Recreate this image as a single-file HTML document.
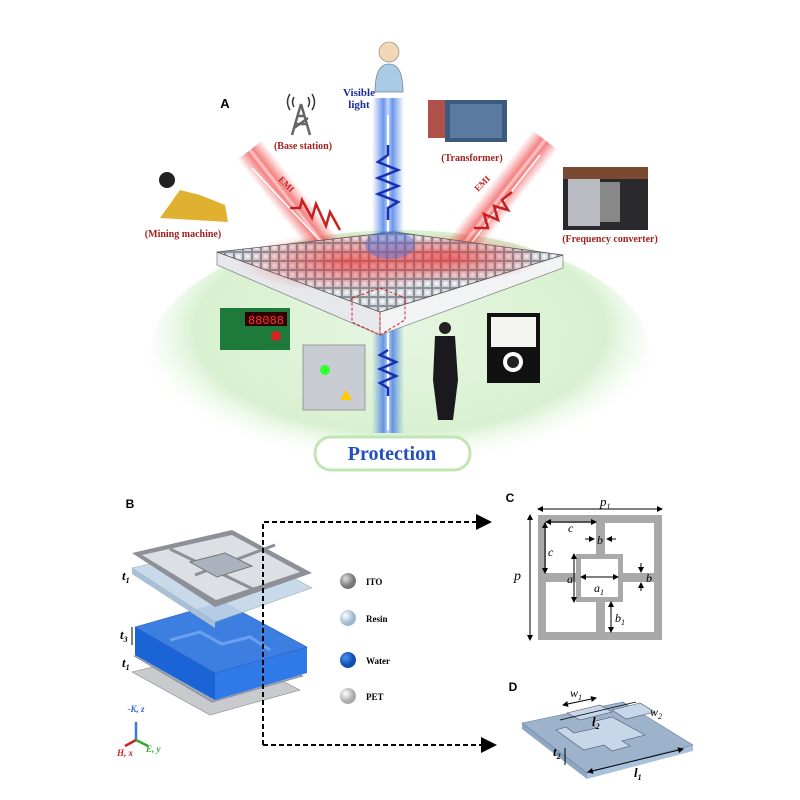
<!DOCTYPE html>
<html><head><meta charset="utf-8"><style>
html,body{margin:0;padding:0;background:#fff;}
svg{display:block;font-family:"Liberation Serif",serif;}
</style></head><body>
<svg width="800" height="800" viewBox="0 0 800 800" xmlns="http://www.w3.org/2000/svg">
<defs>
<radialGradient id="grn" cx="50%" cy="40%" r="55%">
<stop offset="0" stop-color="#e6f6e1"/><stop offset="0.75" stop-color="#d8f1d0"/><stop offset="1" stop-color="#ffffff" stop-opacity="0"/></radialGradient>
<linearGradient id="blu" x1="0" x2="1"><stop offset="0" stop-color="#4a7fe0" stop-opacity="0"/><stop offset="0.35" stop-color="#3b74e6" stop-opacity="0.75"/><stop offset="0.5" stop-color="#c9dcff"/><stop offset="0.65" stop-color="#3b74e6" stop-opacity="0.75"/><stop offset="1" stop-color="#4a7fe0" stop-opacity="0"/></linearGradient>
<linearGradient id="red" x1="0" x2="1"><stop offset="0" stop-color="#f06060" stop-opacity="0"/><stop offset="0.4" stop-color="#ee5050" stop-opacity="0.7"/><stop offset="0.5" stop-color="#ffd0d0"/><stop offset="0.6" stop-color="#ee5050" stop-opacity="0.7"/><stop offset="1" stop-color="#f06060" stop-opacity="0"/></linearGradient>
<radialGradient id="glowr" cx="50%" cy="50%" r="50%"><stop offset="0" stop-color="#e33" stop-opacity="0.7"/><stop offset="1" stop-color="#e33" stop-opacity="0"/></radialGradient>
<pattern id="grid" width="9" height="9" patternUnits="userSpaceOnUse"><rect width="9" height="9" fill="#8a8f98"/><rect x="1" y="1" width="7" height="7" fill="#d2d5da"/><circle cx="4.5" cy="4.5" r="2" fill="#f2f3f5"/></pattern>
<radialGradient id="sph1" cx="35%" cy="35%"><stop offset="0" stop-color="#ddd"/><stop offset="1" stop-color="#777"/></radialGradient>
<radialGradient id="sph2" cx="35%" cy="35%"><stop offset="0" stop-color="#fff"/><stop offset="1" stop-color="#9fb8d0"/></radialGradient>
<radialGradient id="sph3" cx="35%" cy="35%"><stop offset="0" stop-color="#4d8ff0"/><stop offset="1" stop-color="#0d4fb0"/></radialGradient>
<radialGradient id="sph4" cx="35%" cy="35%"><stop offset="0" stop-color="#fff"/><stop offset="1" stop-color="#aaa"/></radialGradient>
<marker id="ar" markerWidth="8" markerHeight="8" refX="7" refY="4" orient="auto"><path d="M0,0 L8,4 L0,8 z" fill="#000"/></marker>
<marker id="sa" markerWidth="6" markerHeight="6" refX="5" refY="3" orient="auto"><path d="M0,0 L6,3 L0,6 z" fill="#000"/></marker>
<marker id="sb" markerWidth="6" markerHeight="6" refX="1" refY="3" orient="auto"><path d="M6,0 L0,3 L6,6 z" fill="#000"/></marker>
</defs>

<!-- green glow -->
<ellipse cx="400" cy="355" rx="250" ry="125" fill="url(#grn)"/>

<!-- blue beam -->
<rect x="372" y="98" width="32" height="335" fill="url(#blu)"/>
<line x1="388" y1="115" x2="388" y2="430" stroke="#fff" stroke-width="2"/>
<polyline points="388,145 388,155 378,162 398,170 378,178 398,186 378,194 398,202 388,208 388,220" fill="none" stroke="#1b2fb0" stroke-width="2.5"/>
<polyline points="388,350 380,355 396,362 380,369 396,376 380,383 388,388 388,396" fill="none" stroke="#1b2fb0" stroke-width="2.5"/>

<!-- red beams -->
<g transform="translate(250,150) rotate(-38)"><rect x="-16" y="0" width="32" height="150" fill="url(#red)"/></g>
<line x1="252" y1="168" x2="340" y2="262" stroke="#fff" stroke-width="1.5"/>
<polyline points="290,208 300,208 302,200 312,218 316,204 326,226 330,212 340,230" fill="none" stroke="#c82020" stroke-width="2.5"/>
<g transform="translate(545,140) rotate(38)"><rect x="-16" y="0" width="32" height="150" fill="url(#red)"/></g>
<line x1="540" y1="155" x2="462" y2="255" stroke="#fff" stroke-width="1.5"/>
<polyline points="512,192 502,200 508,210 494,206 498,220 484,214 488,228 474,228" fill="none" stroke="#c82020" stroke-width="2.5"/>
<text x="278" y="180" font-size="9" fill="#c82020" font-weight="bold" transform="rotate(45 278 180)">EMI</text>
<text x="478" y="192" font-size="9" fill="#c82020" font-weight="bold" transform="rotate(-45 478 192)">EMI</text>

<!-- board -->
<polygon points="217,252 380,312 380,335 217,265" fill="#e6e8ec" stroke="#888" stroke-width="0.8"/>
<polygon points="380,312 563,255 563,268 380,335" fill="#f2f3f5" stroke="#888" stroke-width="0.8"/>
<polygon points="217,252 395,232 563,255 380,312" fill="url(#grid)" stroke="#555" stroke-width="0.8"/>
<ellipse cx="350" cy="262" rx="110" ry="30" fill="url(#glowr)"/>
<ellipse cx="450" cy="258" rx="90" ry="25" fill="url(#glowr)"/>
<ellipse cx="390" cy="245" rx="25" ry="14" fill="#4a6fe0" opacity="0.45"/>
<polygon points="352,298 380,288 405,298 405,320 380,335 352,322" fill="none" stroke="#d02020" stroke-width="1" stroke-dasharray="3,2"/>
<line x1="380" y1="312" x2="380" y2="335" stroke="#d02020" stroke-dasharray="3,2"/>

<!-- top icons -->
<circle cx="389" cy="52" r="10" fill="#f2d6b5" stroke="#999" stroke-width="0.8"/>
<path d="M375,92 Q375,64 389,64 Q403,64 403,92 Z" fill="#a9cbe6" stroke="#789" stroke-width="0.8"/>
<text x="359" y="96" font-size="11" font-weight="bold" fill="#1c2a9c" text-anchor="middle">Visible</text>
<text x="359" y="108" font-size="11" font-weight="bold" fill="#1c2a9c" text-anchor="middle">light</text>
<text x="225" y="108" font-family="Liberation Sans,sans-serif" font-size="13" font-weight="bold" text-anchor="middle">A</text>
<path d="M301,104 L292,135 M301,104 L310,135 M295,124 L307,124 M297,116 L305,116 M294,128 L308,118" stroke="#666" stroke-width="2.5" fill="none"/>
<path d="M294,97 Q291,102 294,107 M308,97 Q311,102 308,107 M290,94 Q285,102 290,110 M312,94 Q317,102 312,110" stroke="#333" stroke-width="1.5" fill="none"/>
<text x="303" y="149" font-size="10" font-weight="bold" fill="#a52020" text-anchor="middle">(Base station)</text>
<rect x="428" y="100" width="22" height="38" fill="#b0504a"/>
<rect x="445" y="100" width="62" height="42" fill="#3a5a80"/>
<rect x="450" y="104" width="52" height="34" fill="#5a7aa0"/>
<text x="472" y="161" font-size="10" font-weight="bold" fill="#a52020" text-anchor="middle">(Transformer)</text>
<path d="M160,218 L180,190 L200,195 L225,205 L228,222 Z" fill="#e0b030"/>
<circle cx="167" cy="180" r="8" fill="#222"/>
<text x="183" y="237" font-size="10" font-weight="bold" fill="#a52020" text-anchor="middle">(Mining machine)</text>
<rect x="563" y="167" width="85" height="63" fill="#2a2a2e"/>
<rect x="568" y="178" width="32" height="48" fill="#b8bcc2"/>
<rect x="600" y="182" width="20" height="40" fill="#888"/>
<rect x="563" y="167" width="85" height="12" fill="#7a4a30"/>
<text x="610" y="242" font-size="10" font-weight="bold" fill="#a52020" text-anchor="middle">(Frequency converter)</text>

<!-- bottom devices -->
<rect x="220" y="308" width="70" height="42" fill="#1e7a3a"/>
<rect x="245" y="312" width="42" height="14" fill="#300"/>
<text x="266" y="324" font-family="Liberation Mono,monospace" font-size="12" fill="#f33" text-anchor="middle">88088</text>
<circle cx="276" cy="336" r="5" fill="#d22"/>
<rect x="303" y="345" width="62" height="65" fill="#c9ccd2" stroke="#999"/>
<circle cx="325" cy="370" r="5" fill="#3f3"/>
<polygon points="340,400 346,390 352,400" fill="#fc0"/>
<circle cx="445" cy="328" r="6" fill="#222"/>
<path d="M435,336 L455,336 L458,380 L453,420 L438,420 L433,380 Z" fill="#1a1a1e"/>
<rect x="487" y="313" width="53" height="70" fill="#111"/>
<rect x="491" y="317" width="45" height="30" fill="#f4f4f0"/>
<circle cx="513" cy="362" r="10" fill="#fff"/>
<circle cx="513" cy="362" r="6" fill="#222"/>

<rect x="315" y="437" width="155" height="33" rx="16" fill="#fff" stroke="#bfe6b4" stroke-width="3"/>
<text x="392" y="460" font-size="20" font-weight="bold" fill="#2350b8" text-anchor="middle">Protection</text>

<!-- Panel B -->
<text x="130" y="508" font-family="Liberation Sans,sans-serif" font-size="12" font-weight="bold" text-anchor="middle">B</text>
<polygon points="132,672 222,650 300,690 210,715" fill="#c8cacd" stroke="#888" stroke-width="0.6"/>
<polygon points="134,656 222,634 303,676 212,702" fill="#9aa8b6" stroke="#778" stroke-width="0.6"/>
<polygon points="135,627 135,655 215,700 215,673" fill="#1a64d8"/>
<polygon points="215,673 307,647 307,673 215,700" fill="#2f7ae6"/>
<polygon points="135,627 223,602 307,647 215,673" fill="#3d7fe0" stroke="#2a5fc0" stroke-width="0.6"/>
<path d="M170,640 L200,632 L222,644 L250,637 L270,650" fill="none" stroke="#6aa0f0" stroke-width="3"/>
<polygon points="132,568 232,545 312,588 215,622" fill="#c3d5e8" opacity="0.9" stroke="#8aa" stroke-width="0.6"/>
<polygon points="132,568 215,622 215,628 132,574" fill="#a9bfd6"/>
<polygon points="132,553 232,530 312,573 215,607" fill="#8d9096"/>
<polygon points="142,555 232,535 300,572 216,600" fill="#dcdfe4"/>
<line x1="170" y1="549" x2="255" y2="590" stroke="#8d9096" stroke-width="3"/>
<line x1="195" y1="575" x2="275" y2="545" stroke="#8d9096" stroke-width="3"/>
<polygon points="190,562 225,553 252,566 217,577" fill="#aab3bd" stroke="#777"/>
<text x="122" y="580" font-size="13" font-style="italic" font-weight="bold">t<tspan font-size="8" dy="3">1</tspan></text>
<text x="120" y="639" font-size="13" font-style="italic" font-weight="bold">t<tspan font-size="8" dy="3">3</tspan></text>
<line x1="132" y1="627" x2="132" y2="645" stroke="#000"/>
<text x="122" y="667" font-size="13" font-style="italic" font-weight="bold">t<tspan font-size="8" dy="3">1</tspan></text>
<line x1="136" y1="740" x2="136" y2="722" stroke="#3a7ad0" stroke-width="2.5"/>
<line x1="136" y1="740" x2="125" y2="746" stroke="#c22" stroke-width="2.5"/>
<line x1="136" y1="740" x2="148" y2="746" stroke="#3a3" stroke-width="2.5"/>
<text x="136" y="712" font-size="9" font-style="italic" font-weight="bold" fill="#3a6ac0" text-anchor="middle">-K, z</text>
<text x="117" y="756" font-size="9" font-style="italic" font-weight="bold" fill="#c22">H, x</text>
<text x="146" y="752" font-size="9" font-style="italic" font-weight="bold" fill="#3a3">E, y</text>
<circle cx="348" cy="581" r="8" fill="url(#sph1)"/><text x="366" y="585" font-size="9" font-weight="bold">ITO</text>
<circle cx="348" cy="618" r="8" fill="url(#sph2)"/><text x="366" y="622" font-size="9" font-weight="bold">Resin</text>
<circle cx="348" cy="660" r="8" fill="url(#sph3)"/><text x="366" y="664" font-size="9" font-weight="bold">Water</text>
<circle cx="348" cy="696" r="8" fill="url(#sph4)"/><text x="366" y="700" font-size="9" font-weight="bold">PET</text>
<polyline points="263,745 263,522 490,522" fill="none" stroke="#000" stroke-width="2" stroke-dasharray="5,3" marker-end="url(#ar)"/>
<polyline points="263,745 495,745" fill="none" stroke="#000" stroke-width="2" stroke-dasharray="5,3" marker-end="url(#ar)"/>

<!-- Panel C -->
<text x="510" y="502" font-family="Liberation Sans,sans-serif" font-size="12" font-weight="bold" text-anchor="middle">C</text>
<rect x="538" y="515" width="124" height="125" fill="#a9a9a9"/>
<rect x="546" y="523" width="50" height="50" fill="#fff"/>
<rect x="605" y="523" width="49" height="50" fill="#fff"/>
<rect x="546" y="582" width="50" height="50" fill="#fff"/>
<rect x="605" y="582" width="49" height="50" fill="#fff"/>
<rect x="576" y="554" width="47" height="48" fill="#a9a9a9"/>
<rect x="581" y="559" width="37" height="38" fill="#fff"/>
<line x1="538" y1="509" x2="662" y2="509" stroke="#000" marker-start="url(#sb)" marker-end="url(#sa)"/>
<text x="600" y="506" font-size="13" font-style="italic">p<tspan font-size="8" dy="3">1</tspan></text>
<line x1="530" y1="515" x2="530" y2="640" stroke="#000" marker-start="url(#sb)" marker-end="url(#sa)"/>
<text x="514" y="580" font-size="14" font-style="italic">p</text>
<line x1="546" y1="522" x2="596" y2="522" stroke="#000" marker-start="url(#sb)" marker-end="url(#sa)"/>
<text x="568" y="532" font-size="12" font-style="italic">c</text>
<line x1="545" y1="523" x2="545" y2="573" stroke="#000" marker-start="url(#sb)" marker-end="url(#sa)"/>
<text x="548" y="556" font-size="12" font-style="italic">c</text>
<text x="597" y="544" font-size="12" font-style="italic">b</text>
<line x1="585" y1="539" x2="594" y2="539" stroke="#000" marker-end="url(#sa)"/>
<line x1="616" y1="539" x2="607" y2="539" stroke="#000" marker-end="url(#sa)"/>
<text x="646" y="582" font-size="12" font-style="italic">b</text>
<line x1="641" y1="563" x2="641" y2="572" stroke="#000" marker-end="url(#sa)"/>
<line x1="641" y1="591" x2="641" y2="583" stroke="#000" marker-end="url(#sa)"/>
<line x1="574" y1="554" x2="574" y2="602" stroke="#000" marker-start="url(#sb)" marker-end="url(#sa)"/>
<text x="567" y="583" font-size="12" font-style="italic">a</text>
<line x1="581" y1="577" x2="618" y2="577" stroke="#000" marker-start="url(#sb)" marker-end="url(#sa)"/>
<text x="594" y="592" font-size="12" font-style="italic">a<tspan font-size="8" dy="3">1</tspan></text>
<line x1="611" y1="602" x2="611" y2="632" stroke="#000" marker-start="url(#sb)" marker-end="url(#sa)"/>
<text x="615" y="622" font-size="12" font-style="italic">b<tspan font-size="8" dy="3">1</tspan></text>

<!-- Panel D -->
<text x="513" y="691" font-family="Liberation Sans,sans-serif" font-size="12" font-weight="bold" text-anchor="middle">D</text>
<polygon points="522,723 587,773 587,779 522,729" fill="#8ea8c4"/>
<polygon points="587,773 693,745 693,751 587,779" fill="#a9c2dc"/>
<polygon points="522,723 623,702 693,745 587,773" fill="#9db3cc" stroke="#6a7f99" stroke-width="0.6"/>
<polygon points="556,730 566,727 574,733 596,728 592,722 612,717 645,735 622,741 630,746 612,751 604,745 584,750 578,746" fill="#c6d7ea" stroke="#556" stroke-width="0.6"/>
<polygon points="567,713 600,705 612,712 580,720" fill="#c6d7ea" stroke="#556" stroke-width="0.6"/>
<polygon points="612,710 640,703 655,712 626,719" fill="#c6d7ea" stroke="#556" stroke-width="0.6"/>
<line x1="563" y1="705" x2="596" y2="698" stroke="#000" marker-start="url(#sb)" marker-end="url(#sa)"/>
<text x="570" y="697" font-size="12" font-style="italic">w<tspan font-size="8" dy="3">1</tspan></text>
<text x="650" y="716" font-size="12" font-style="italic">w<tspan font-size="8" dy="3">2</tspan></text>
<text x="592" y="726" font-size="13" font-style="italic" font-weight="bold">l<tspan font-size="8" dy="3">2</tspan></text>
<line x1="560" y1="720" x2="636" y2="702" stroke="#000" stroke-width="0.8"/>
<text x="553" y="756" font-size="13" font-style="italic" font-weight="bold">t<tspan font-size="8" dy="3">2</tspan></text>
<line x1="565" y1="748" x2="565" y2="765" stroke="#000"/>
<line x1="588" y1="772" x2="683" y2="749" stroke="#000" marker-start="url(#sb)" marker-end="url(#sa)"/>
<text x="634" y="777" font-size="13" font-style="italic" font-weight="bold">l<tspan font-size="8" dy="3">1</tspan></text>
</svg>
</body></html>
